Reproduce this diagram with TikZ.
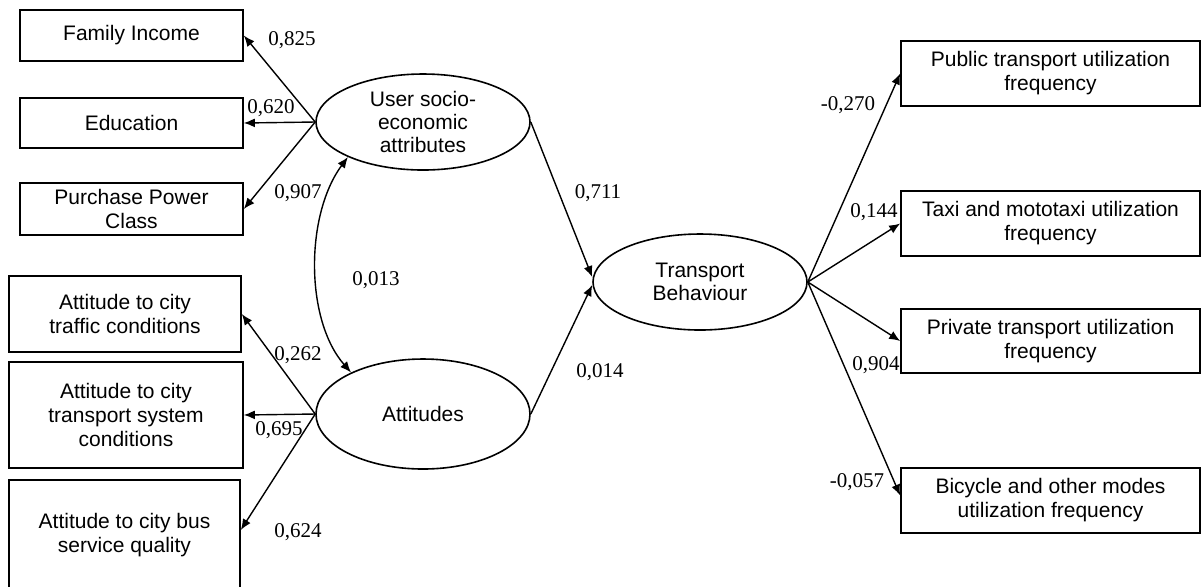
\documentclass[tikz,border=0pt]{standalone}
\usepackage{fontspec}
\setmainfont{Liberation Sans}
\newfontfamily\numfont{Liberation Serif}
\usetikzlibrary{shapes.geometric, arrows.meta, positioning}

\begin{document}
\begin{tikzpicture}[x=0.5pt, y=-0.5pt,
    varbox/.style={draw, line width=0.8pt, rectangle, align=center, inner sep=1pt, font=\fontsize{10.5}{12}\selectfont},
    latent/.style={draw, line width=0.8pt, ellipse, align=center, inner sep=0pt, minimum width=107pt, font=\fontsize{10.5}{11.5}\selectfont},
    link/.style={line width=0.7pt, -{Latex[length=5.5pt, width=4.5pt]}},
    coef/.style={font=\numfont\fontsize{10.5}{12}\selectfont, inner sep=0pt}]
    \useasboundingbox (0,0) rectangle (1204,586);

    % Observed variables (left)
    \node[varbox, minimum width=111.5pt, minimum height=25.5pt] (inc) at (131.5,35.5) {Family Income};
    \node[varbox, minimum width=111.5pt, minimum height=25pt] (edu) at (131.5,123) {Education};
    \node[varbox, minimum width=111.5pt, minimum height=26pt] (ppc) at (131.5,209) {Purchase Power\\Class};
    \node[varbox, minimum width=116pt, minimum height=38pt] (atraf) at (125,314) {Attitude to city\\traffic conditions};
    \node[varbox, minimum width=117pt, minimum height=53pt] (asys) at (126,415) {Attitude to city\\transport system\\conditions};
    \node[varbox, minimum width=115.5pt, minimum height=55pt] (abus) at (124.5,535) {Attitude to city bus\\service quality};

    % Latent variables
    \node[latent, minimum height=48pt] (ses) at (423,122) {User socio-\\economic\\attributes};
    \node[latent, minimum height=55pt] (att) at (423,414) {Attitudes};
    \node[latent, minimum height=48pt] (tb) at (700,282) {Transport\\Behaviour};

    % Observed variables (right)
    \node[varbox, minimum width=149.5pt, minimum height=32.5pt] (pub) at (1050.5,73.5) {Public transport utilization\\frequency};
    \node[varbox, minimum width=149.5pt, minimum height=32.5pt] (taxi) at (1050.5,223.5) {Taxi and mototaxi utilization\\frequency};
    \node[varbox, minimum width=149.5pt, minimum height=32pt] (priv) at (1050.5,341) {Private transport utilization\\frequency};
    \node[varbox, minimum width=149.5pt, minimum height=32.5pt] (bike) at (1050.5,500.5) {Bicycle and other modes\\utilization frequency};

    % Loadings
    \draw[link] (ses.west) -- (inc.east);
    \draw[link] (ses.west) -- (edu.east);
    \draw[link] (ses.west) -- (ppc.east);
    \draw[link] (att.west) -- (atraf.east);
    \draw[link] (att.west) -- (asys.east);
    \draw[link] (att.west) -- ([yshift=2.5pt]abus.east);
    \draw[link] (tb.east) -- (pub.west);
    \draw[link] (tb.east) -- (taxi.west);
    \draw[link] (tb.east) -- (priv.west);
    \draw[link] (tb.east) -- ([yshift=2.5pt]bike.west);

    % Structural paths
    \draw[link] (ses.east) -- ([yshift=2.5pt]tb.west);
    \draw[link] (att.east) -- ([yshift=-1.5pt]tb.west);
    \draw[link, {Latex[length=5.5pt, width=4.5pt]}-{Latex[length=5.5pt, width=4.5pt]}] (ses.205) .. controls (305,215) and (305,320) .. (att.150);

    % Coefficients
    \node[coef] (c825) at (292,40) {0,825};
    \node[coef] (c620) at (271,108) {0,620};
    \node[coef] (c907) at (298,193) {0,907};
    \node[coef] (c013) at (376,280) {0,013};
    \node[coef] (c262) at (298,355) {0,262};
    \node[coef] (c695) at (279,430) {0,695};
    \node[coef] (c624) at (298,532) {0,624};
    \node[coef] (c711) at (598,193) {0,711};
    \node[coef] (c014) at (600,372) {0,014};
    \node[coef] (c270) at (848,105) {-0,270};
    \node[coef] (c144) at (874,212) {0,144};
    \node[coef] (c904) at (876,365) {0,904};
    \node[coef] (c057) at (857,482) {-0,057};
\end{tikzpicture}
\end{document}
